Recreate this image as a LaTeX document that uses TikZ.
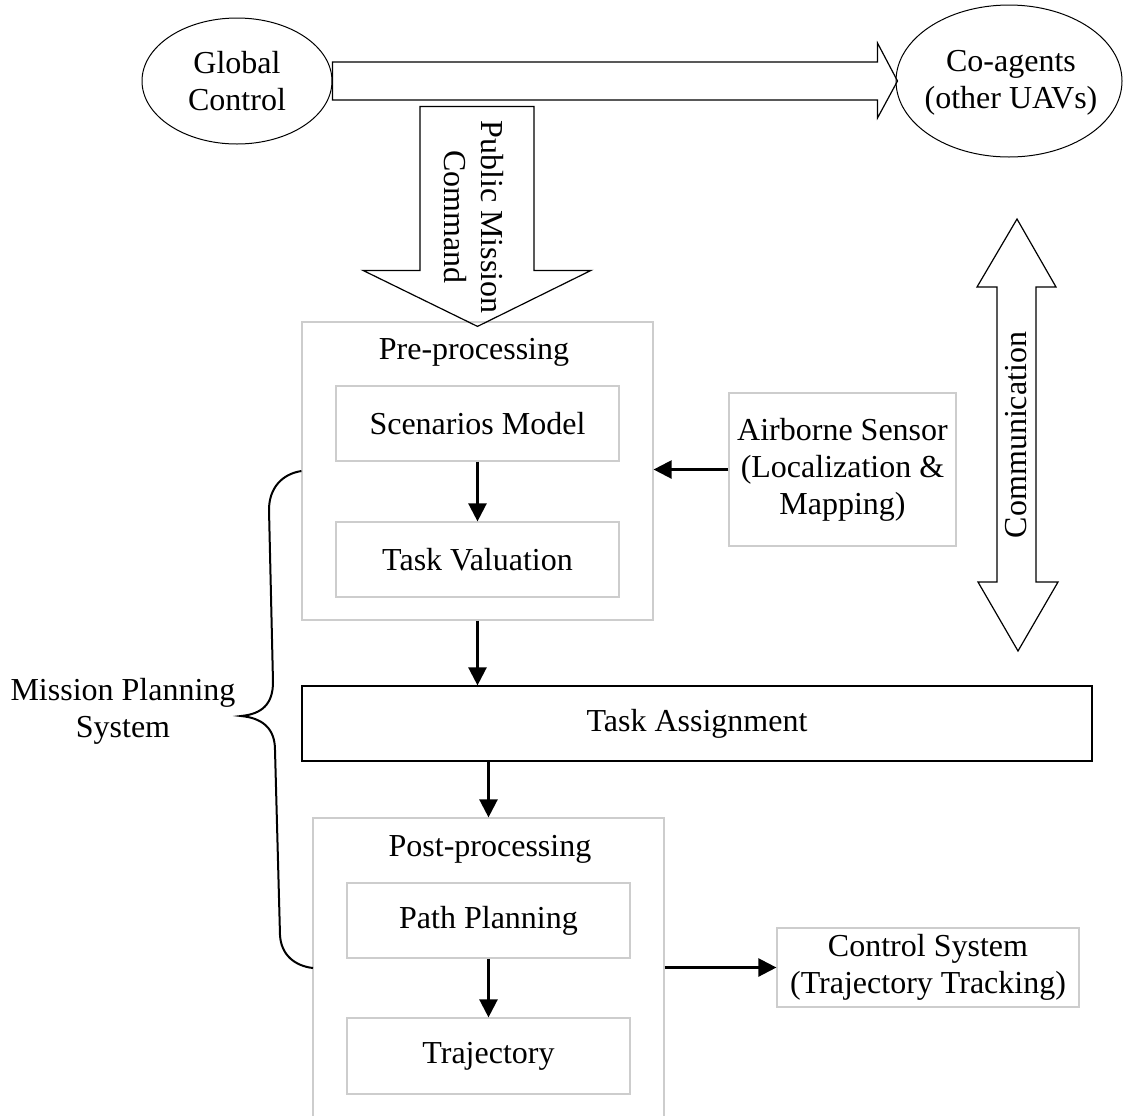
\documentclass[tikz,border=0pt]{standalone}
\usepackage{fontspec}
\setmainfont{Liberation Serif}
\usetikzlibrary{arrows.meta,shapes.geometric,calc}
\definecolor{boxgrey}{RGB}{205,205,205}
\begin{document}
\begin{tikzpicture}[x=0.5pt,y=-0.5pt,
  every node/.style={font=\fontsize{16pt}{18.5pt}\selectfont, align=center, inner sep=0pt},
  greybox/.style={draw=boxgrey, line width=0.6pt, rectangle},
  blackbox/.style={draw=black, line width=0.6pt, rectangle},
  oval/.style={draw=black, line width=0.5pt, ellipse},
  fat/.style={draw=black, line width=0.6pt, line join=miter},
  flow/.style={draw=black, line width=1.2pt, -{Triangle[length=9pt,width=9pt]}},
  bracestyle/.style={draw=black, line width=1pt}
]
\useasboundingbox (0,0) rectangle (1125,1115);
\clip (0,0) rectangle (1125,1115);

% ellipses
\node[oval, minimum width=95pt, minimum height=63pt] (glob) at (237,81) {};
\node (globtext) at (237,81) {Global\\Control};
\node[oval, minimum width=113pt, minimum height=76pt] (coag) at (1009,81) {};
\node (coagtext) at (1011,83) {Co-agents\\(other UAVs)};

% pre-processing
\node[greybox, minimum width=175.5pt, minimum height=149pt] (pre) at (477.5,471) {};
\node (pretitle) at (474,352) {Pre-processing};
\node[greybox, minimum width=141.5pt, minimum height=37.5pt] (scen) at (477.5,423.5) {Scenarios Model};
\node[greybox, minimum width=141.5pt, minimum height=37.5pt] (tval) at (477.5,559.5) {Task Valuation};

% task assignment
\node[blackbox, minimum width=395pt, minimum height=37.5pt] (assign) at (697,723.5) {Task Assignment};

% post-processing
\node[greybox, minimum width=175.5pt, minimum height=156pt] (post) at (488.5,974) {};
\node (posttitle) at (490,849) {Post-processing};
\node[greybox, minimum width=141.5pt, minimum height=37.5pt] (path) at (488.5,920.5) {Path Planning};
\node[greybox, minimum width=141.5pt, minimum height=38pt] (traj) at (488.5,1056) {Trajectory};

% side boxes
\node[greybox, minimum width=113.5pt, minimum height=76.5pt] (air) at (842.5,469.5) {Airborne Sensor\\(Localization \&\\Mapping)};
\node[greybox, minimum width=151pt, minimum height=39.5pt] (ctrl) at (928,967.5) {Control System\\(Trajectory Tracking)};

% mission planning label
\node (mps) at (123,711) {Mission Planning\\System};

% big horizontal arrow
\draw[fat] ([shift={(0,-19)}]glob.east) -- ([shift={(-18,-19)}]coag.west)
  -- ([shift={(-18,-38)}]coag.west) -- ([shift={(2,0)}]coag.west)
  -- ([shift={(-18,37)}]coag.west) -- ([shift={(-18,19)}]coag.west)
  -- ([shift={(0,19)}]glob.east) -- cycle;

% public mission command arrow
\coordinate (pmtip) at ($(pre.north)+(0,5)$);
\draw[fat] ($(pmtip)+(-57.5,-220)$) -- ($(pmtip)+(56.5,-220)$) -- ($(pmtip)+(56.5,-56)$)
  -- ($(pmtip)+(113.5,-56)$) -- (pmtip) -- ($(pmtip)+(-114.5,-56)$)
  -- ($(pmtip)+(-57.5,-56)$) -- cycle;
\node[rotate=-90] (pmc) at (474,217) {Public Mission\\Command};

% communication double arrow
\draw[fat] (1017,219) -- (1056,287) -- (1036,287) -- (1036,582) -- (1058,582)
  -- (1018,651) -- (978,582) -- (997,582) -- (997,287) -- (977,287) -- cycle;
\node[rotate=90] (comm) at (1016,435) {Communication};

% flow arrows
\draw[flow] (scen.south) -- (tval.north);
\draw[flow] (pre.south) -- (pre.south |- assign.north);
\draw[flow] (post.north |- assign.south) -- (post.north);
\draw[flow] (path.south) -- (traj.north);
\draw[flow] (air.west) -- (air.west -| pre.east);
\draw[flow] (post.east |- ctrl.west) -- (ctrl.west);

% brace
\draw[bracestyle] (pre.west) .. controls (282,474) and (269,488) .. (269,510)
  -- (273,682) .. controls (273,704) and (262,714) .. (241,716)
  .. controls (262,718) and (275,728) .. (275,750)
  -- (280,935) .. controls (281,955) and (295,966) .. (313,968);
\end{tikzpicture}
\end{document}
